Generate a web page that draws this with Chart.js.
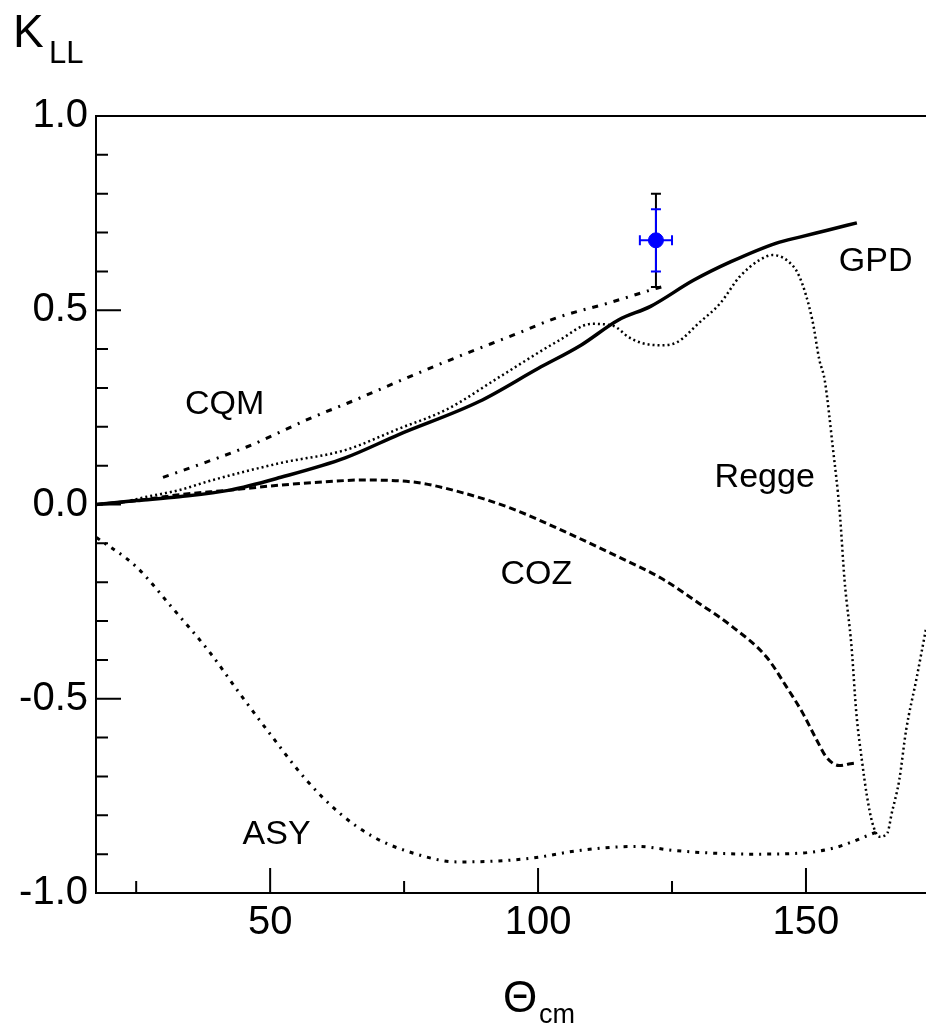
<!DOCTYPE html>
<html>
<head>
<meta charset="utf-8">
<script src="https://cdn.jsdelivr.net/npm/chart.js@4.4.1/dist/chart.umd.min.js"></script>
<style>
  html, body { margin: 0; padding: 0; background: #fff; overflow: hidden; }
  #wrap { width: 926px; height: 1026px; }
</style>
</head>
<body>
<div id="wrap"><canvas id="kll" width="926" height="1026"></canvas></div>
<script>
// theory curves (theta in degrees, K_LL)
const gpdTheta = [17.5, 25, 33, 42.5, 52, 64, 74, 89, 100, 108, 115, 121, 129, 136, 144.5, 149, 154, 159.5];
const gpdK = [0, 0.01, 0.02, 0.037, 0.07, 0.12, 0.18, 0.265, 0.35, 0.41, 0.475, 0.51, 0.577, 0.625, 0.673, 0.689, 0.706, 0.725];

const cqmTheta = [30, 35.6, 45.6, 58, 64.3, 75, 85, 95, 104, 113, 121, 123];
const cqmK = [0.07, 0.097, 0.148, 0.225, 0.26, 0.323, 0.38, 0.434, 0.483, 0.518, 0.552, 0.56];

const reggeTheta = [17.5, 22, 27, 33, 39.3, 52, 64, 74, 83, 93, 104, 110, 114, 117, 119.5, 123, 126, 130, 134, 137.6, 141.3, 143.7, 146.4, 148.8, 151.2, 152.5, 153.5, 155, 156.3, 157.2, 158.5, 159.4, 160.5, 161.4, 162.4, 163.7, 165.2, 166, 167.4, 168.7, 170.6, 172.4];
const reggeK = [0, 0.005, 0.02, 0.037, 0.063, 0.107, 0.14, 0.195, 0.245, 0.33, 0.423, 0.465, 0.46, 0.43, 0.415, 0.41, 0.418, 0.467, 0.518, 0.586, 0.629, 0.642, 0.629, 0.586, 0.474, 0.372, 0.32, 0.148, -0.02, -0.195, -0.366, -0.537, -0.665, -0.752, -0.82, -0.855, -0.845, -0.795, -0.71, -0.58, -0.45, -0.32];

const cozTheta = [17.5, 25, 33, 42.5, 52, 60, 67, 76.6, 86, 95, 105, 115, 123, 130, 136.3, 142.6, 146.4, 149.4, 152, 153.8, 156.2, 158, 159.5];
const cozK = [0, 0.01, 0.025, 0.037, 0.05, 0.058, 0.063, 0.058, 0.03, -0.01, -0.07, -0.135, -0.19, -0.254, -0.315, -0.392, -0.47, -0.537, -0.606, -0.65, -0.672, -0.668, -0.665];

const asyTheta = [17.6, 25, 31.8, 38.7, 44.3, 50.5, 56.8, 63, 69.2, 76.6, 85, 92, 99, 108, 118.6, 125, 132, 140, 149.4, 155, 158.3, 161, 163.7];
const asyK = [-0.085, -0.16, -0.267, -0.38, -0.486, -0.6, -0.71, -0.795, -0.855, -0.897, -0.92, -0.918, -0.91, -0.89, -0.88, -0.89, -0.897, -0.9, -0.897, -0.885, -0.87, -0.855, -0.84];

// measured point
const dataTheta = [122];
const dataK = [0.68];
const dataThetaErr = [3];
const dataStatErr = [0.08];
const dataSysErr = [0.12];

// axis ticks
const xMajor = [50, 100, 150];
const xMinor = [25, 75, 125];
const yMajor = [-1, -0.5, 0, 0.5, 1];
const yMinor = [-0.9, -0.8, -0.7, -0.6, -0.4, -0.3, -0.2, -0.1, 0.1, 0.2, 0.3, 0.4, 0.6, 0.7, 0.8, 0.9];

// curve names placed in data units
const curveNames = ['CQM', 'GPD', 'Regge', 'COZ', 'ASY'];
const nameTheta = [41.5, 163, 142.3, 99.7, 51.2];
const nameK = [0.256, 0.624, 0.068, -0.181, -0.85];

const FONT = '"Liberation Sans", Arial, Helvetica, sans-serif';
Chart.defaults.font.family = FONT;
Chart.defaults.color = '#000';

const pts = (xs, ys) => xs.map((x, i) => ({ x: x, y: ys[i] }));

const curve = (label, xs, ys, dash, width) => ({
  label: label,
  data: pts(xs, ys),
  borderColor: '#000',
  borderWidth: width,
  borderDash: dash,
  pointRadius: 0,
  fill: false,
  cubicInterpolationMode: 'monotone',
});

const decor = {
  id: 'decor',
  beforeDatasetsDraw(chart) {
    const { ctx, scales: { x, y } } = chart;
    ctx.save();
    dataTheta.forEach((t, i) => {
      const px = x.getPixelForValue(t);
      const py = y.getPixelForValue(dataK[i]);
      const bar = (err, color) => {
        const y1 = y.getPixelForValue(dataK[i] + err);
        const y2 = y.getPixelForValue(dataK[i] - err);
        ctx.strokeStyle = color;
        ctx.lineWidth = 2;
        ctx.beginPath();
        ctx.moveTo(px, y1); ctx.lineTo(px, y2);
        ctx.moveTo(px - 5, y1); ctx.lineTo(px + 5, y1);
        ctx.moveTo(px - 5, y2); ctx.lineTo(px + 5, y2);
        ctx.stroke();
      };
      bar(dataSysErr[i], '#000');
      bar(dataStatErr[i], '#0000ff');
      const x1 = x.getPixelForValue(t - dataThetaErr[i]);
      const x2 = x.getPixelForValue(t + dataThetaErr[i]);
      ctx.strokeStyle = '#0000ff';
      ctx.beginPath();
      ctx.moveTo(x1, py); ctx.lineTo(x2, py);
      ctx.moveTo(x1, py - 5); ctx.lineTo(x1, py + 5);
      ctx.moveTo(x2, py - 5); ctx.lineTo(x2, py + 5);
      ctx.stroke();
    });
    ctx.restore();
  },
  afterDraw(chart) {
    const { ctx, chartArea: a, scales: { x, y } } = chart;
    ctx.save();
    ctx.strokeStyle = '#000';
    ctx.lineWidth = 2;
    ctx.beginPath();
    ctx.moveTo(a.left, a.top); ctx.lineTo(a.right, a.top);
    // inward tick marks
    xMajor.forEach(v => { const p = x.getPixelForValue(v); ctx.moveTo(p, a.bottom); ctx.lineTo(p, a.bottom - 25); });
    xMinor.forEach(v => { const p = x.getPixelForValue(v); ctx.moveTo(p, a.bottom); ctx.lineTo(p, a.bottom - 12); });
    yMajor.forEach(v => { const p = y.getPixelForValue(v); ctx.moveTo(a.left, p); ctx.lineTo(a.left + 25, p); });
    yMinor.forEach(v => { const p = y.getPixelForValue(v); ctx.moveTo(a.left, p); ctx.lineTo(a.left + 12, p); });
    ctx.stroke();

    ctx.fillStyle = '#000';
    ctx.textAlign = 'center';
    ctx.textBaseline = 'middle';
    ctx.font = '34px ' + FONT;
    curveNames.forEach((n, i) => {
      ctx.fillText(n, x.getPixelForValue(nameTheta[i]), y.getPixelForValue(nameK[i]));
    });

    // axis titles with subscripts
    ctx.textAlign = 'left';
    ctx.textBaseline = 'alphabetic';
    ctx.font = '46px ' + FONT;
    ctx.fillText('K', 13, 47);
    ctx.font = '31px ' + FONT;
    ctx.fillText('LL', 49, 63);
    ctx.font = '44px ' + FONT;
    ctx.fillText('\u0398', 503, 1012);
    ctx.font = '27px ' + FONT;
    ctx.fillText('cm', 539, 1023);
    ctx.restore();
  }
};

new Chart(document.getElementById('kll'), {
  type: 'line',
  data: {
    datasets: [
      curve('GPD', gpdTheta, gpdK, [], 3.5),
      curve('CQM', cqmTheta, cqmK, [6, 7, 2, 7], 3),
      curve('Regge', reggeTheta, reggeK, [2, 3], 2.5),
      curve('COZ', cozTheta, cozK, [7, 4], 3),
      curve('ASY', asyTheta, asyK, [4, 6, 2, 6], 3),
      {
        label: 'data',
        data: pts(dataTheta, dataK),
        showLine: false,
        pointRadius: 7.5,
        pointBackgroundColor: '#0000ff',
        pointBorderColor: '#0000ff',
      },
    ],
  },
  options: {
    responsive: false,
    animation: false,
    events: [],
    layout: { autoPadding: false, padding: { top: 116, right: 0, left: 0, bottom: 0 } },
    plugins: { legend: { display: false }, tooltip: { enabled: false } },
    scales: {
      x: {
        type: 'linear',
        min: 17.5,
        max: 172.4,
        grid: { display: false, drawTicks: false },
        border: { display: true, color: '#000', width: 2 },
        ticks: { font: { size: 40 }, color: '#000', padding: 6, maxRotation: 0 },
        afterBuildTicks: s => { s.ticks = xMajor.map(v => ({ value: v })); },
        afterFit: s => { s.height = 133; },
      },
      y: {
        min: -1,
        max: 1,
        grid: { display: false, drawTicks: false },
        border: { display: true, color: '#000', width: 2 },
        ticks: { font: { size: 40 }, color: '#000', padding: 8, callback: v => v.toFixed(1) },
        afterBuildTicks: s => { s.ticks = yMajor.map(v => ({ value: v })); },
        afterFit: s => { s.width = 96; },
      },
    },
  },
  plugins: [decor],
});
</script>
</body>
</html>
